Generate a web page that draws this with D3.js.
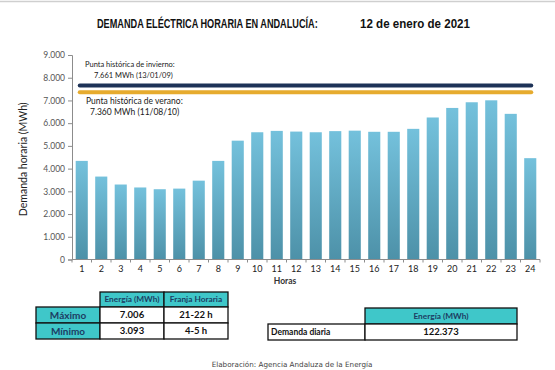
<!DOCTYPE html>
<html>
<head>
<meta charset="utf-8">
<script src="https://cdn.jsdelivr.net/npm/d3@7"></script>
<style>
  body { margin: 0; background: #fff; }
  svg { display: block; }
</style>
</head>
<body>
<svg id="chart" width="555" height="370"></svg>
<script>
// datos horarios (MWh)
var horas = d3.range(1, 25)
var demanda = [4340, 3650, 3300, 3170, 3093, 3120, 3470, 4340, 5230, 5600, 5660, 5630,
               5600, 5650, 5670, 5620, 5620, 5750, 6250, 6670, 6920, 7006, 6410, 4460]
var yTicks = [0, 1000, 2000, 3000, 4000, 5000, 6000, 7000, 8000, 9000]
var puntaInvierno = 7661
var puntaVerano = 7360

var tablaCab = ["Energía (MWh)", "Franja Horaria"]
var tablaFilas = ["Máximo", "Mínimo"]
var tablaEnergia = ["7.006", "3.093"]
var tablaFranja = ["21-22 h", "4-5 h"]
var demandaDiaria = "122.373"

var width = 555, height = 370
var margin = {top: 55, right: 15, bottom: 110.5, left: 72}

var svg = d3.select("#chart")

var fmt = d3.formatLocale({decimal: ",", thousands: ".", grouping: [3], currency: ["", ""]}).format(",")

var x = d3.scaleBand()
	.domain(horas)
	.range([margin.left, 540])
	.paddingInner(0.38)
	.paddingOuter(0.19)

var y = d3.scaleLinear()
	.domain([0, 9000])
	.range([height - margin.bottom, margin.top])

// linea gris superior
svg.append("line")
	.attr("x1", 0).attr("x2", width).attr("y1", 1.5).attr("y2", 1.5)
	.attr("stroke", "#cfcfcf").attr("stroke-width", 1.5)

// titulo: Arial estrechado horizontalmente para ajustar al ancho original
function titulo(txt, x0, ancho, size) {
	var t = svg.append("text")
		.attr("font-family", "Liberation Sans, Arial, sans-serif")
		.attr("font-weight", "bold").attr("font-size", size)
		.attr("fill", "#111")
		.text(txt)
	var w = t.node().getComputedTextLength()
	var k = Math.min(1, ancho / w)
	t.attr("transform", `translate(${x0},28) scale(${k},1)`)
}
titulo("DEMANDA ELÉCTRICA HORARIA EN ANDALUCÍA:", 97, 221, 12.3)
titulo("12 de enero de 2021", 360, 110, 12.3)

// gradiente de barras
var grad = svg.append("defs").append("linearGradient")
	.attr("id", "barGrad").attr("x1", 0).attr("x2", 0).attr("y1", 0).attr("y2", 1)
grad.append("stop").attr("offset", "0%").attr("stop-color", "#74c1dc")
grad.append("stop").attr("offset", "100%").attr("stop-color", "#4d91a8")

svg.append("g")
	.selectAll("rect")
	.data(demanda)
	.join("rect")
	.attr("x", (d, i) => x(horas[i]))
	.attr("y", d => y(d))
	.attr("width", x.bandwidth())
	.attr("height", d => y(0) - y(d))
	.attr("fill", "url(#barGrad)")

// eje y
var yAxis = svg.append("g")
	.attr("transform", `translate(${margin.left},0)`)
	.call(d3.axisLeft(y).tickValues(yTicks).tickFormat(fmt).tickSize(4).tickPadding(3))
yAxis.selectAll("line,path").attr("stroke", "#8c8c8c")
yAxis.selectAll("text")
	.attr("font-family", "Lato, sans-serif").attr("font-size", 8.5).attr("fill", "#555")

// eje x
var xAxis = svg.append("g")
	.attr("transform", `translate(0,${y(0)})`)
	.call(d3.axisBottom(x).tickSize(0).tickPadding(6).tickSizeOuter(0))
xAxis.select(".domain").attr("stroke", "#8c8c8c")
	.attr("d", `M${margin.left},0H${x.range()[1]}`)
xAxis.selectAll("text")
	.attr("font-family", "Lato, sans-serif").attr("font-size", 9).attr("fill", "#222")
xAxis.selectAll(".sep")
	.data(d3.range(0, horas.length + 1))
	.join("line")
	.attr("class", "sep")
	.attr("x1", i => x.range()[0] + i * x.step())
	.attr("x2", i => x.range()[0] + i * x.step())
	.attr("y1", 0).attr("y2", 3)
	.attr("stroke", "#8c8c8c")

svg.append("text")
	.attr("x", 285).attr("y", 284)
	.attr("text-anchor", "middle")
	.attr("font-family", "Lato, sans-serif").attr("font-size", 8.5).attr("font-weight", "bold")
	.attr("fill", "#333")
	.text("Horas")

svg.append("text")
	.attr("transform", `translate(27,${(y(0) + y(9000)) / 2 + 2}) rotate(-90)`)
	.attr("text-anchor", "middle")
	.attr("font-family", "Lato, sans-serif").attr("font-size", 10.5)
	.attr("fill", "#222")
	.text("Demanda horaria (MWh)")

// puntas historicas
var xa = x(horas[0]) + x.bandwidth() / 2 - 2
var xb = x(horas[horas.length - 1]) + x.bandwidth() / 2 + 1
svg.append("line")
	.attr("x1", xa).attr("x2", xb).attr("y1", y(puntaInvierno)).attr("y2", y(puntaInvierno))
	.attr("stroke", "#1d3257").attr("stroke-width", 4).attr("stroke-linecap", "round")
svg.append("line")
	.attr("x1", xa).attr("x2", xb).attr("y1", y(puntaVerano)).attr("y2", y(puntaVerano))
	.attr("stroke", "#e6ab2e").attr("stroke-width", 4).attr("stroke-linecap", "round")

var notas = [
	{t: "Punta histórica de invierno:", x: 85, y: y(puntaInvierno) - 18, s: 7.5},
	{t: fmt(puntaInvierno) + " MWh (13/01/09)", x: 94, y: y(puntaInvierno) - 7, s: 7.5},
	{t: "Punta histórica de verano:", x: 86, y: y(puntaVerano) + 12, s: 8.5},
	{t: fmt(puntaVerano) + " MWh (11/08/10)", x: 90, y: y(puntaVerano) + 23, s: 8.5}
]
svg.append("g").selectAll("text")
	.data(notas)
	.join("text")
	.attr("x", d => d.x).attr("y", d => d.y)
	.attr("font-family", "Lato, sans-serif").attr("font-size", d => d.s)
	.attr("fill", "#1a1a1a")
	.text(d => d.t)

// tablas
var turq = "#3fc7c9"
var tab = svg.append("g").attr("font-family", "Lato, sans-serif").attr("font-weight", "bold")

function celda(x0, y0, w, h, fill, txt, size, color) {
	tab.append("rect")
		.attr("x", x0).attr("y", y0).attr("width", w).attr("height", h)
		.attr("fill", fill).attr("stroke", "#111").attr("stroke-width", 1.3)
	tab.append("text")
		.attr("x", x0 + w / 2).attr("y", y0 + h / 2 + size * 0.36)
		.attr("text-anchor", "middle").attr("font-size", size).attr("fill", color)
		.text(txt)
}
function celdaIzq(x0, y0, w, h, fill, txt, size, color) {
	tab.append("rect")
		.attr("x", x0).attr("y", y0).attr("width", w).attr("height", h)
		.attr("fill", fill).attr("stroke", "#111").attr("stroke-width", 1.3)
	tab.append("text")
		.attr("x", x0 + 3).attr("y", y0 + h / 2 + size * 0.36)
		.attr("font-size", size).attr("fill", color)
		.text(txt)
}

var cols = [36, 100, 164, 228]
var rowsY = [292, 307, 323, 339]
tablaCab.forEach((c, i) => celda(cols[i + 1], rowsY[0], cols[i + 2] - cols[i + 1], rowsY[1] - rowsY[0], turq, c, 8.3, "#1d3d63"))
tablaFilas.forEach((r, i) => {
	celda(cols[0], rowsY[i + 1], cols[1] - cols[0], rowsY[i + 2] - rowsY[i + 1], turq, r, 10, "#1d3d63")
	celda(cols[1], rowsY[i + 1], cols[2] - cols[1], rowsY[i + 2] - rowsY[i + 1], "#fff", tablaEnergia[i], 9.5, "#111")
	celda(cols[2], rowsY[i + 1], cols[3] - cols[2], rowsY[i + 2] - rowsY[i + 1], "#fff", tablaFranja[i], 9.5, "#111")
})

celda(365, 308, 152, 16, turq, "Energía (MWh)", 8.3, "#1d3d63")
celdaIzq(268, 324, 97, 16, "#fff", "Demanda diaria", 8.5, "#111")
celda(365, 324, 152, 16, "#fff", demandaDiaria, 9.5, "#111")

// fuente
svg.append("text")
	.attr("x", 292).attr("y", 367)
	.attr("text-anchor", "middle")
	.attr("font-family", "DejaVu Sans, sans-serif").attr("font-size", 7.2)
	.attr("fill", "#444")
	.text("Elaboración: Agencia Andaluza de la Energía")
</script>
</body>
</html>
